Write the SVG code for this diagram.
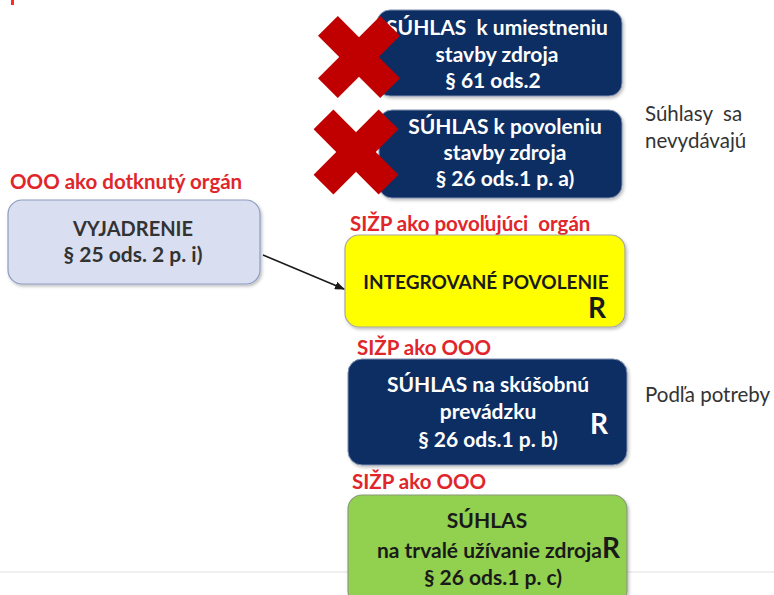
<svg xmlns="http://www.w3.org/2000/svg" width="774" height="595" viewBox="0 0 774 595">
<defs>
<style>
.t{font-family:Lato,"Open Sans","Liberation Sans",sans-serif;font-weight:bold;font-size:21px;text-anchor:middle}
.w{fill:#ffffff}
.k{fill:#1a1a1a}
.d{fill:#333333}
.red{font-family:Lato,"Open Sans","Liberation Sans",sans-serif;font-weight:bold;font-size:20.5px;fill:#e0262b}
.note{font-family:Lato,"Open Sans","Liberation Sans",sans-serif;font-size:20.5px;fill:#333333}
.big{font-family:Lato,"Liberation Sans",sans-serif;font-weight:bold;font-size:28px;text-anchor:middle}
.navy{fill:#0c2d63;stroke:#7f8fb0;stroke-width:1}
.x{fill:#c00000}
</style>
<filter id="sh" x="-10%" y="-10%" width="125%" height="130%">
<feDropShadow dx="1.5" dy="2" stdDeviation="1.5" flood-color="#000" flood-opacity="0.25"/>
</filter>
<marker id="ah" markerWidth="10" markerHeight="8" refX="9" refY="4" orient="auto" markerUnits="userSpaceOnUse">
<path d="M0,0 L10,4 L0,8 z" fill="#1a1a1a"/>
</marker>
</defs>
<rect width="774" height="595" fill="#ffffff"/>
<rect x="11" y="0" width="3" height="5" fill="#ff2a2a"/>
<line x1="0" y1="572" x2="774" y2="572" stroke="#efefef" stroke-width="2"/>

<g id="n1">
<rect x="377" y="10" width="245" height="86" rx="13" class="navy" filter="url(#sh)"/>
<text class="t w" x="497" y="35">SÚHLAS&#160; k umiestneniu</text>
<text class="t w" x="497" y="62">stavby zdroja</text>
<text class="t w" x="493" y="88">§ 61 ods.2</text>
<g class="x" transform="translate(359,57) rotate(45)">
<rect x="-44" y="-14" width="88" height="28"/>
<rect x="-14" y="-44" width="28" height="88"/>
</g>
</g>

<g id="n2">
<rect x="379" y="110" width="243" height="88" rx="13" class="navy" filter="url(#sh)"/>
<text class="t w" x="505" y="134">SÚHLAS k povoleniu</text>
<text class="t w" x="505" y="160">stavby zdroja</text>
<text class="t w" x="505" y="186">§ 26 ods.1 p. a)</text>
<g class="x" transform="translate(356,152) rotate(45)">
<rect x="-46" y="-14" width="92" height="28"/>
<rect x="-14" y="-46" width="28" height="92"/>
</g>
</g>

<g id="note1">
<text class="note" x="645" y="121">Súhlasy&#160; sa</text>
<text class="note" x="645" y="148">nevydávajú</text>
</g>

<g id="n3">
<text class="red" x="10" y="189">OOO ako dotknutý orgán</text>
<rect x="8" y="200" width="252" height="84" rx="14" fill="#d9dff0" stroke="#8d9cc0" stroke-width="1.2" filter="url(#sh)"/>
<text class="t d" x="133" y="236" style="font-size:20px">VYJADRENIE</text>
<text class="t d" x="133" y="262">§ 25 ods. 2 p. i)</text>
</g>

<g id="n4">
<text class="red" x="350" y="231">SIŽP ako povoľujúci&#160; orgán</text>
<rect x="345" y="235" width="280" height="92" rx="14" fill="#ffff00" stroke="#a6a6a6" stroke-width="1.2" filter="url(#sh)"/>
<text class="t k" x="486" y="289" style="font-size:19px">INTEGROVANÉ POVOLENIE</text>
<text class="big k" x="597" y="318">R</text>
</g>

<g id="n5">
<text class="red" x="357" y="355">SIŽP ako OOO</text>
<rect x="348" y="359" width="279" height="106" rx="14" class="navy" filter="url(#sh)"/>
<text class="t w" x="488" y="392">SÚHLAS na skúšobnú</text>
<text class="t w" x="488" y="419">prevádzku</text>
<text class="t w" x="488" y="447">§ 26 ods.1 p. b)</text>
<text class="big w" x="599" y="434">R</text>
</g>

<g id="note2">
<text class="note" x="645" y="402">Podľa potreby</text>
</g>

<g id="n6">
<text class="red" x="352" y="489">SIŽP ako OOO</text>
<rect x="348" y="495" width="279" height="110" rx="14" fill="#92d050" stroke="#8a9a7a" stroke-width="1.2" filter="url(#sh)"/>
<text class="t k" x="487" y="528">SÚHLAS</text>
<text class="t k" x="602" y="558" style="text-anchor:end">na trvalé užívanie zdroja</text>
<text class="big k" x="611" y="558">R</text>
<text class="t k" x="493" y="585">§ 26 ods.1 p. c)</text>
</g>

<g id="connectors">
<line x1="263" y1="255" x2="344" y2="289" stroke="#1a1a1a" stroke-width="1.5" marker-end="url(#ah)"/>
</g>
</svg>
